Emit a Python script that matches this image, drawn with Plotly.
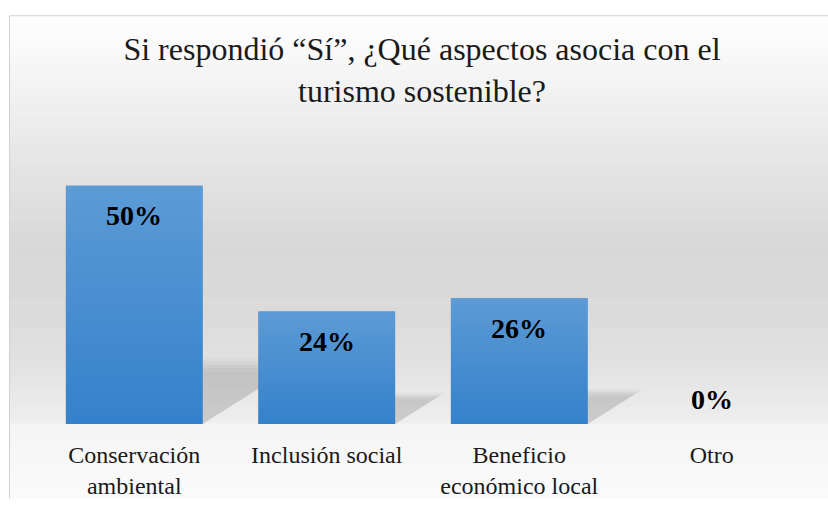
import plotly.graph_objects as go

# ---- data ----
categories = ["Conservación<br>ambiental", "Inclusión social", "Beneficio<br>económico local", "Otro"]
values = [0.50, 0.236, 0.264, 0.00]
value_labels = ["50%", "24%", "26%", "0%"]
title_text = "Si respondió “Sí”, ¿Qué aspectos asocia con el<br>turismo sostenible?"

# ---- layout geometry ----
W, H = 828, 511
L, R, T, B = 38, 20, 138, 77
plot_w = W - L - R
plot_h = H - T - B
base_py = H - B
FONT = "Liberation Serif, Times New Roman, serif"

x_idx = list(range(len(categories)))
bar_w = 0.71

fig = go.Figure()
fig.add_trace(go.Bar(
    x=x_idx, y=values, width=bar_w,
    marker=dict(color="#4890d1", line=dict(width=0)),
    hoverinfo="skip", showlegend=False,
))

# vertical colour gradient over each bar (derived from the same values)
for i, v in zip(x_idx, values):
    if v <= 0:
        continue
    x0, x1 = i - bar_w / 2, i + bar_w / 2
    fig.add_trace(go.Scatter(
        x=[x0, x1, x1, x0, x0], y=[0, 0, v, v, 0], mode="lines",
        line=dict(width=0, color="rgba(0,0,0,0)"), fill="toself",
        fillgradient=dict(type="vertical",
                          colorscale=[[0, "#3481cb"], [1, "#5c9bd6"]]),
        hoverinfo="skip", showlegend=False,
    ))

# ---- background gradient (styling), pixel rows; kept inside the figure ----
stops = [(11, 255), (100, 240), (180, 226), (250, 216), (320, 218), (380, 227),
         (432, 238), (436, 245), (480, 248), (511, 250)]

def gray(py):
    for (a, ga), (b, gb) in zip(stops[:-1], stops[1:]):
        if a <= py <= b:
            return round(ga + (gb - ga) * (py - a) / (b - a))
    return 255

def py_paper(py):
    return (base_py - py) / plot_h

def px_paper(px):
    return (px - L) / plot_w

shapes = []
step = 2
for py in range(11, H, step):
    g = gray(py + step / 2)
    shapes.append(dict(
        type="rect", xref="paper", yref="paper",
        x0=px_paper(9), x1=px_paper(W),
        y0=py_paper(min(py + step + 0.6, H)), y1=py_paper(py),
        fillcolor=f"rgb({g},{g},{g})", line=dict(width=0), layer="below",
    ))

# border of chart area (left and top edges only visible in the frame)
bx, by_top, by_bot, bx_r = px_paper(9.5), py_paper(11.5), py_paper(H), px_paper(W)
shapes.append(dict(
    type="path", xref="paper", yref="paper",
    path=f"M {bx},{by_bot} L {bx},{by_top} L {bx_r},{by_top}",
    line=dict(color="#d0d0d0", width=1), layer="below",
))

# perspective shadows behind bars
for i, v in zip(x_idx, values):
    if v <= 0:
        continue
    for hf, op in [(1.12, 0.03), (1.06, 0.04), (1.0, 0.05), (0.94, 0.04), (0.86, 0.03)]:
        h = 0.25 * v * hf
        dx = 0.98 * v * hf
        x0 = i - bar_w / 2
        x1 = i + bar_w / 2
        path = f"M {x0},0 L {x1},0 L {x1 + dx},{h} L {x0 + dx},{h} Z"
        shapes.append(dict(type="path", xref="x", yref="y", path=path,
                           fillcolor=f"rgba(60,60,60,{op})", line=dict(width=0), layer="below"))

# value labels
annotations = []
for i, v, lab in zip(x_idx, values, value_labels):
    annotations.append(dict(
        x=i, y=v, xref="x", yref="y", text=lab, showarrow=False,
        yanchor="middle", yshift=-30 if v > 0 else 25,
        font=dict(family=FONT, size=28, color="#000000", weight="bold"),
    ))

fig.update_layout(
    width=W, height=H,
    margin=dict(l=L, r=R, t=T, b=B, pad=0),
    paper_bgcolor="white", plot_bgcolor="rgba(0,0,0,0)",
    title=dict(text=title_text, x=422 / W, xanchor="center", y=1 - 60 / H, yanchor="top",
               yref="container", font=dict(family=FONT, size=32, color="#1a1a1a")),
    xaxis=dict(tickmode="array", tickvals=x_idx, ticktext=categories, range=[-0.5, 3.5],
               showgrid=False, zeroline=False, showline=False, ticks="", ticklabelstandoff=14,
               tickfont=dict(family=FONT, size=24, color="#1a1a1a"), fixedrange=True),
    yaxis=dict(range=[0, 0.6], visible=False, fixedrange=True),
    shapes=shapes, annotations=annotations,
    bargap=0.29, showlegend=False, hovermode=False,
)

fig.write_html(
    "out.html",
    config={"displayModeBar": False, "staticPlot": True},
    post_script=(
        "document.body.style.margin='0';"
        "document.body.style.overflow='hidden';"
        "document.documentElement.style.overflow='hidden';"
    ),
)
